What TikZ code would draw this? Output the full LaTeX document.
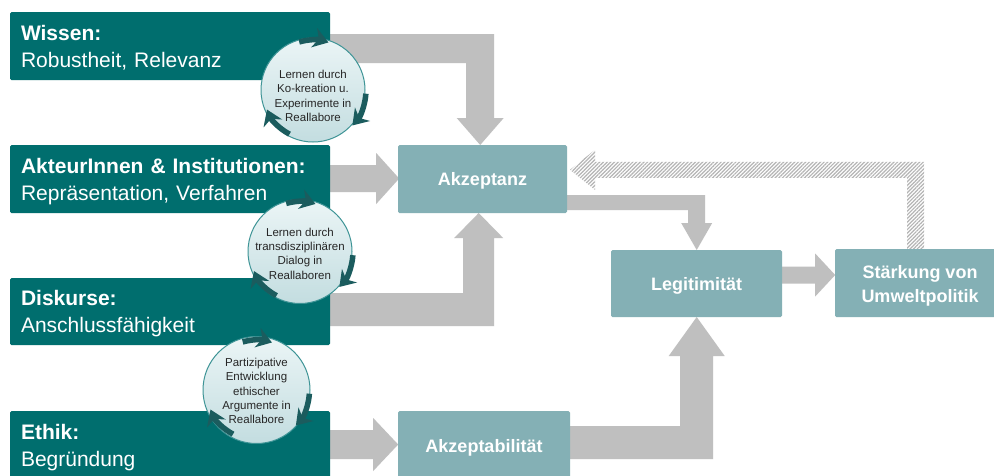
\documentclass[tikz,border=0pt]{standalone}
\usepackage{fontspec}
\setmainfont{Liberation Sans}
\usetikzlibrary{arrows.meta,patterns.meta,calc}
\pgfdeclarelayer{bg}
\pgfsetlayers{bg,main}
\definecolor{darkteal}{HTML}{006E6E}
\definecolor{lightteal}{HTML}{84B0B5}
\definecolor{arrowgrey}{HTML}{BFBFBF}
\definecolor{hatchgrey}{HTML}{B4B4B4}
\definecolor{circfillA}{HTML}{EBF5F6}
\definecolor{circfillB}{HTML}{C3DDE0}
\definecolor{circline}{HTML}{3E9496}
\definecolor{circarrow}{HTML}{1B5C5E}
\newcommand{\topstrut}[1]{\rule{0pt}{#1}}
\newcommand{\botstrut}[1]{\rule[-#1]{0pt}{#1}}
\begin{document}
\begin{tikzpicture}[x=1pt,y=-1pt,
  darkbox/.style={fill=darkteal, rounded corners=1.5pt, minimum width=320pt, inner xsep=11pt, inner ysep=0pt,
    text width=298pt, align=left, text=white, font=\fontsize{21}{27}\selectfont},
  lightbox/.style={fill=lightteal, rounded corners=1.5pt, inner sep=0pt, align=center, text=white,
    font=\bfseries\fontsize{18}{24}\selectfont},
  oneline/.style={text height=13pt, text depth=0pt},
  circ/.style={circle, minimum size=104pt, inner sep=0pt, draw=circline, line width=1pt,
    top color=circfillA, bottom color=circfillB},
  circtext/.style={align=center, inner sep=0pt, font=\fontsize{11.5}{14.4}\selectfont, text=black!85},
  carrow/.style={draw=circarrow, line width=5.5pt, -{Stealth[length=15pt,width=20pt]}},
  blockarrow/.style={fill=arrowgrey},
  hatcharrow/.style={pattern={Lines[angle=45,distance=2.6pt,line width=1.2pt]}, pattern color=hatchgrey}
]
\useasboundingbox (0,0) rectangle (994,475);

% dark boxes
\node[darkbox, minimum height=68pt] (wissen) at (170,46) {\topstrut{20pt}\textbf{Wissen:}\\Robustheit, Relevanz\botstrut{5pt}};
\node[darkbox, minimum height=68pt] (akteur) at (170,179) {\topstrut{20pt}\textbf{AkteurInnen \& Institutionen:}\\Repräsentation, Verfahren\botstrut{5pt}};
\node[darkbox, minimum height=67pt] (diskurse) at (170,311.5) {\topstrut{20pt}\textbf{Diskurse:}\\Anschlussfähigkeit\botstrut{5pt}};
\node[darkbox, minimum height=69pt] (ethik) at (170,445.5) {\topstrut{20pt}\textbf{Ethik:}\\Begründung\botstrut{5pt}};

% light boxes
\node[lightbox, oneline, minimum width=169pt, minimum height=68pt] (akzeptanz) at (482.5,179) {Akzeptanz};
\node[lightbox, oneline, minimum width=172pt, minimum height=69pt] (akzeptabilitaet) at (484,445.5) {Akzeptabilität};
\node[lightbox, oneline, minimum width=171pt, minimum height=67pt] (legit) at (696.5,283.5) {Legitimität};
\node[lightbox, minimum width=170pt, minimum height=68pt] (staerkung) at (920,283) {\topstrut{17.8pt}Stärkung von\\Umweltpolitik};

% block arrows (connectors)
\begin{pgfonlayer}{bg}
\fill[white] (0,0) rectangle (994,475);
\fill[blockarrow] ([yshift=12pt]wissen.east) -- ++(164,0) -- ++(0,84) -- ++(9.5,0) -- ++(-23.5,27)
  -- ++(-23.5,-27) -- ++(9.5,0) -- ++(0,-55) -- ++(-136,0) -- cycle;
\fill[blockarrow] ([yshift=14pt]akteur.east) -- ++(46,0) -- ++(0,-12) -- ++(23,25.5) -- ++(-23,25.5)
  -- ++(0,-12) -- ++(-46,0) -- cycle;
\fill[blockarrow] ([yshift=-14.5pt]diskurse.east) -- ++(164,0) -- ++(0,-88) -- ++(9,0) -- ++(-24.5,-25)
  -- ++(-24.5,25) -- ++(9,0) -- ++(0,55) -- ++(-133,0) -- cycle;
\fill[blockarrow] ([yshift=15.5pt]ethik.east) -- ++(43,0) -- ++(0,-12) -- ++(25,26.5) -- ++(-25,26.5)
  -- ++(0,-12) -- ++(-43,0) -- cycle;
\fill[blockarrow] ([yshift=-16pt]akzeptanz.east) -- ++(138,0) -- ++(0,28) -- ++(7,0) -- ++(-15.5,27)
  -- ++(-15.5,-27) -- ++(7,0) -- ++(0,-13) -- ++(-121,0) -- cycle;
\fill[blockarrow] ([yshift=-13.5pt]akzeptabilitaet.east) -- ++(143,0) -- ++(0,-103) -- ++(11.5,0) -- ++(-28,-39)
  -- ++(-28,39) -- ++(11.5,0) -- ++(0,70) -- ++(-110,0) -- cycle;
\fill[blockarrow] ([yshift=17pt]legit.east) -- ++(33,0) -- ++(0,-13) -- ++(20,21.5) -- ++(-20,21.5)
  -- ++(0,-13) -- ++(-33,0) -- cycle;
\fill[hatcharrow] ([xshift=-13pt]staerkung.north) -- ++(0,-71) -- ++(-312,0) -- ++(0,12) -- ++(-25,-20)
  -- ++(25,-20) -- ++(0,12) -- ++(329,0) -- ++(0,87) -- cycle;
\end{pgfonlayer}

% learning circles
\node[circ] (c1) at (313,90) {};
\node[circtext] (c1t) at (313,96) {Lernen durch\\Ko-kreation u.\\Experimente in\\Reallabore};
\node[circ] (c2) at (300,251.5) {};
\node[circtext] (c2t) at (300,253.5) {Lernen durch\\transdisziplinären\\Dialog in\\Reallaboren};
\node[circ, minimum size=107pt] (c3) at (256.5,390) {};
\node[circtext] (c3t) at (256.5,391) {Partizipative\\Entwicklung\\ethischer\\Argumente in\\Reallabore};

% circular arrows
\foreach \c in {c1,c2,c3}{
  \draw[carrow] (\c.center) ++(106:50pt) arc[start angle=106, end angle=72, radius=50pt];
  \draw[carrow] (\c.center) ++(-4:53pt) arc[start angle=-4, end angle=-42, radius=53pt];
  \draw[carrow] (\c.center) ++(242:50pt) arc[start angle=242, end angle=203, radius=50pt];
}
\end{tikzpicture}
\end{document}
